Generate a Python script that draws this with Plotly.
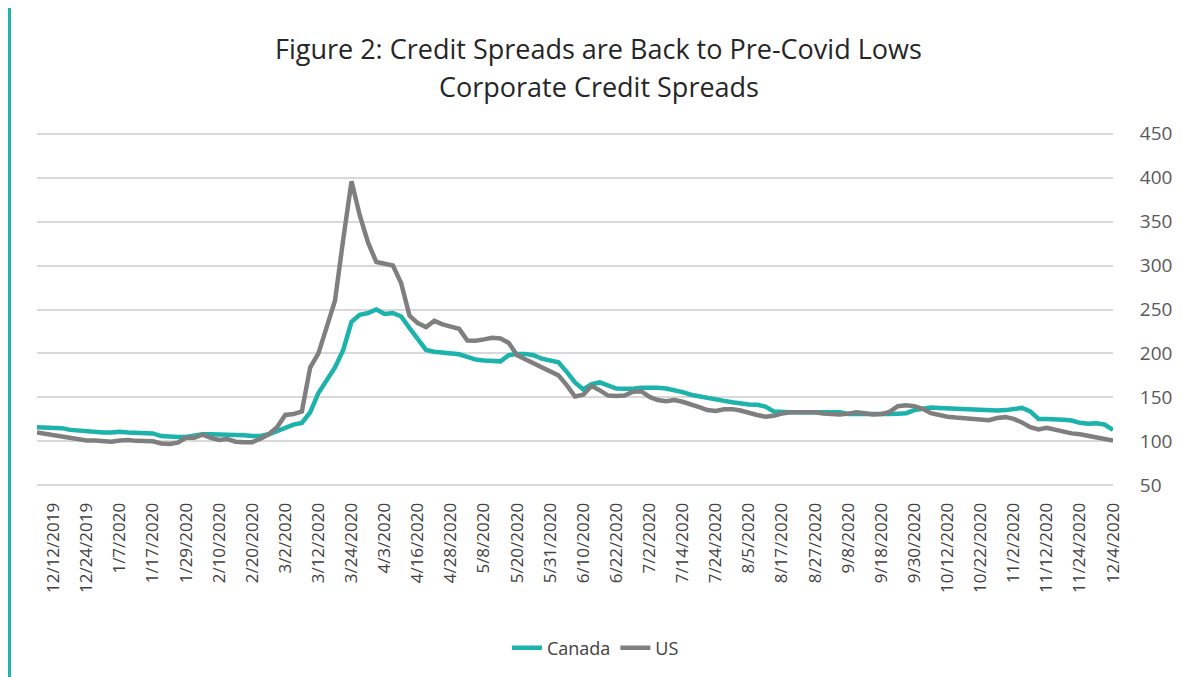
import pandas as pd
import plotly.graph_objects as go

# ---- category axis: trading dates used by the source chart ----
holidays = ["2019-12-25", "2020-01-01", "2020-04-10"]
weekend_month_ends = ["2020-02-29", "2020-05-31", "2020-10-31"]
_days = pd.bdate_range("2019-12-06", "2020-12-04")
_days = _days.difference(pd.to_datetime(holidays)).union(pd.to_datetime(weekend_month_ends))
categories = [f"{d.month}/{d.day}/{d.year}" for d in _days]

tick_labels = [
    "12/12/2019", "12/24/2019", "1/7/2020", "1/17/2020", "1/29/2020", "2/10/2020",
    "2/20/2020", "3/2/2020", "3/12/2020", "3/24/2020", "4/3/2020", "4/16/2020",
    "4/28/2020", "5/8/2020", "5/20/2020", "5/31/2020", "6/10/2020", "6/22/2020",
    "7/2/2020", "7/14/2020", "7/24/2020", "8/5/2020", "8/17/2020", "8/27/2020",
    "9/8/2020", "9/18/2020", "9/30/2020", "10/12/2020", "10/22/2020", "11/2/2020",
    "11/12/2020", "11/24/2020", "12/4/2020",
]

# values at every second trading date
sample_dates = categories[::2]

canada = [
    116, 116, 116, 115, 113, 112, 111, 111, 110, 110,
    111, 110, 110, 109, 109, 106, 105, 105, 105, 107,
    108, 108, 108, 107, 107, 107, 106, 106, 108, 112,
    116, 119, 121, 133, 155, 169, 184, 204, 236, 244,
    246, 250, 245, 246, 242, 229, 216, 204, 202, 201,
    201, 199, 196, 193, 192, 191, 191, 198, 199.5, 199.5,
    198, 194, 192, 190, 179, 167, 159, 165, 167, 163,
    160, 159.7, 159.7, 161, 161.5, 161, 160, 158.5, 156, 153,
    151, 149, 148, 146, 144.5, 143, 142, 141.5, 139.5, 134,
    133, 133, 133, 133, 133.5, 134, 133, 133, 131, 131,
    130.5, 130, 130.5, 131, 131.5, 132, 135.5, 137.5, 138.5, 138,
    137.5, 137, 137, 136, 135, 135, 135, 135.5, 136.5, 138,
    134, 125.5, 125.5, 125.5, 124.5, 123.6, 121, 120, 120.5, 119,
    113,
]

us = [
    110, 108.5, 107, 105, 103.5, 101.6, 101, 101, 100, 99.5,
    101, 101.6, 100.5, 100, 100, 97.5, 97, 98.5, 104, 104,
    107.5, 104, 101.6, 102.5, 99.5, 99, 99, 103, 108, 116,
    130, 131, 134, 184, 200, 230, 260, 330, 396, 357,
    326, 304, 302, 300, 280, 243, 234.5, 230, 237, 233,
    230.5, 228, 214.7, 214.5, 216, 217.8, 217, 212, 198, 193.5,
    189, 184, 180, 175, 164, 151, 153, 163, 158, 152,
    151.5, 152, 156.5, 157, 150.5, 147, 145.6, 147, 145, 142.5,
    139, 135.5, 134.5, 136.5, 136.6, 135, 132, 130, 128, 129,
    131.5, 133, 133, 133, 133, 131.5, 130.5, 130.5, 131.5, 133,
    132, 130.5, 131, 133.5, 140, 141, 140, 137, 132, 129.5,
    128, 127, 126, 125, 124.5, 124, 126.5, 127.5, 125.5, 121.5,
    116, 113.5, 115.5, 113, 111, 109, 108, 106.5, 104.5, 102.5,
    101,
]

TEAL = "#1BB3AB"
GRAY = "#7F7F7F"
FONT = "Open Sans"
CLEAR = "rgba(0,0,0,0)"

fig = go.Figure()
fig.add_trace(go.Scatter(x=sample_dates, y=canada, name="Canada", mode="lines",
                         line=dict(color=TEAL, width=4.5)))
fig.add_trace(go.Scatter(x=sample_dates, y=us, name="US", mode="lines",
                         line=dict(color=GRAY, width=4.5)))

fig.update_layout(
    width=1173, height=669,
    margin=dict(l=29, r=68, t=124, b=190, autoexpand=False),
    paper_bgcolor="white", plot_bgcolor="white",
    font=dict(family=FONT, color="#404040"),
    showlegend=True,
    legend=dict(orientation="h", x=0.519, xanchor="center", y=-0.4535, yanchor="middle",
                font=dict(size=18, color="#404040"), traceorder="normal"),
    annotations=[
        dict(text="Figure 2: Credit Spreads are Back to Pre-Covid Lows", x=0.522, y=1.2366,
             xref="paper", yref="paper", xanchor="center", yanchor="middle",
             showarrow=False, font=dict(size=27, color="#262626", family=FONT)),
        dict(text="Corporate Credit Spreads", x=0.522, y=1.1268,
             xref="paper", yref="paper", xanchor="center", yanchor="middle",
             showarrow=False, font=dict(size=27, color="#262626", family=FONT)),
    ],
    shapes=[
        dict(type="line", xref="paper", yref="paper", x0=-0.0256, x1=-0.0256, y0=-0.6, y1=1.4,
             line=dict(color=TEAL, width=3)),
    ],
)

fig.update_xaxes(type="category", categoryorder="array", categoryarray=categories,
                 range=[0, len(categories) - 1], tickmode="array",
                 tickvals=tick_labels, ticktext=tick_labels, tickangle=-90,
                 tickfont=dict(size=17, color="#404040"), showgrid=False,
                 showline=False, zeroline=False, ticks="outside", ticklen=8, tickcolor=CLEAR)
fig.update_yaxes(side="right", range=[48, 452], tickvals=[50, 100, 150, 200, 250, 300, 350, 400, 450],
                 showgrid=True, gridcolor="#D9D9D9", gridwidth=2,
                 zeroline=False, showline=False, ticks="outside", ticklen=22, tickcolor=CLEAR,
                 tickfont=dict(size=19, color="#595959"))

fig.write_html("out.html")
